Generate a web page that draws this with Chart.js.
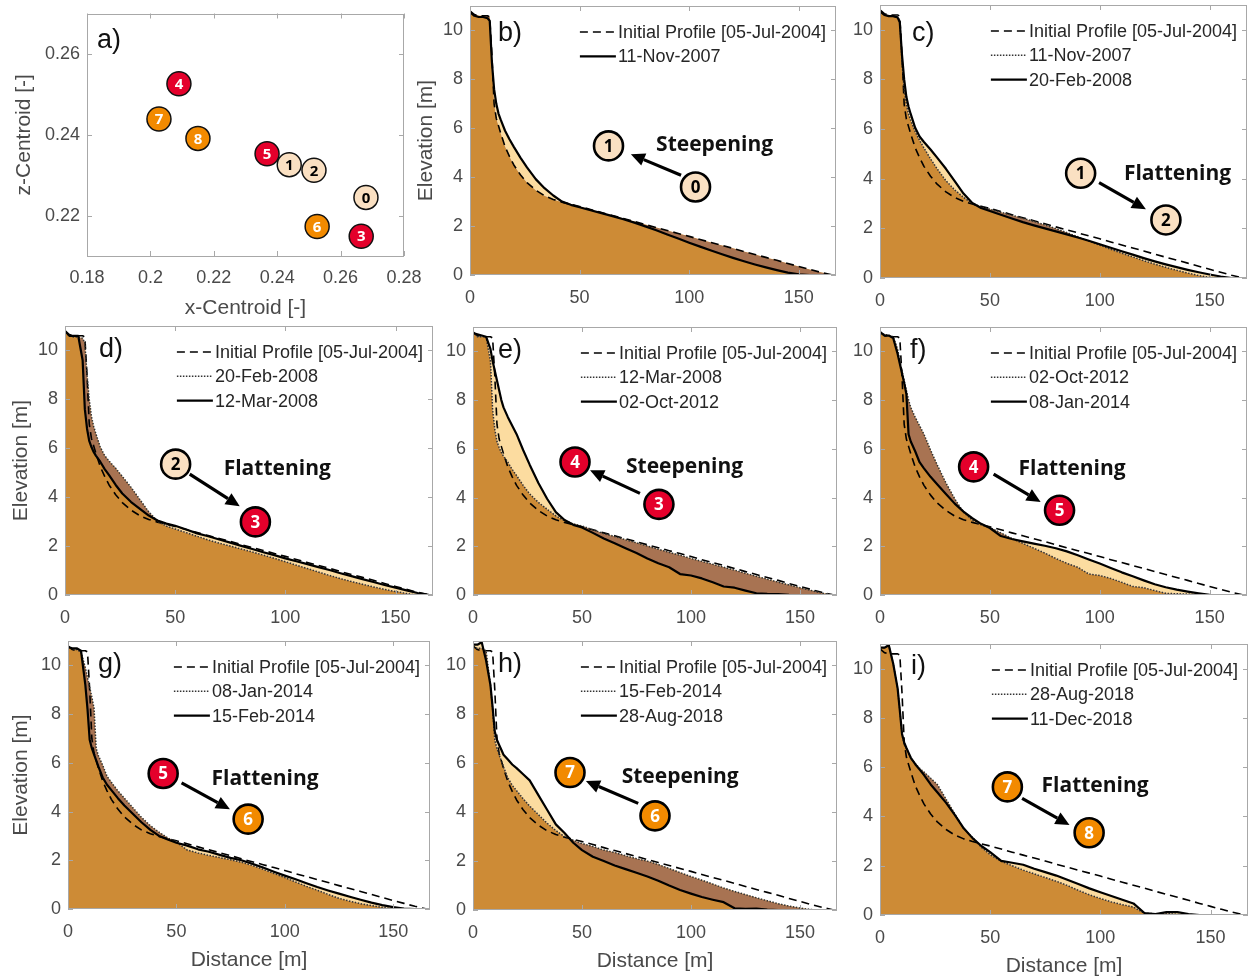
<!DOCTYPE html>
<html>
<head>
<meta charset="utf-8">
<script src="https://cdn.jsdelivr.net/npm/chart.js@4.4.1/dist/chart.umd.min.js"></script>
<style>
html,body{margin:0;padding:0;background:#ffffff;}
body{position:relative;width:1250px;height:978px;overflow:hidden;}
canvas{position:absolute;}
</style>
</head>
<body>
<script>
// ================= DATA =================
const distance = [0,2,4,6,8,9,10,11,12,13,14,16,18,20,23,26,30,34,38,42,46,50,55,60,65,70,75,80,85,90,95,100,105,110,115,120,125,130,135,140,145,150,155,160,165,167];

const elev_05Jul2004 = [10.8,10.65,10.6,10.6,10.6,10.55,9.0,7.0,6.4,6.1,5.8,5.25,4.85,4.5,4.1,3.78,3.47,3.24,3.09,2.98,2.89,2.8,2.68,2.55,2.43,2.31,2.19,2.06,1.94,1.82,1.7,1.58,1.45,1.33,1.21,1.09,0.96,0.84,0.72,0.6,0.47,0.35,0.23,0.11,0.01,0];
const elev_11Nov2007 = [10.75,10.6,10.55,10.55,10.5,10.4,8.7,7.6,7.0,6.6,6.35,5.9,5.55,5.24,4.8,4.4,3.92,3.55,3.25,3.0,2.87,2.77,2.65,2.53,2.41,2.28,2.14,1.99,1.83,1.66,1.49,1.32,1.16,1.0,0.85,0.7,0.56,0.43,0.31,0.2,0.1,0.03,0,0,0,0];
const elev_20Feb2008 = [10.75,10.6,10.55,10.55,10.5,10.3,9.0,8.0,7.3,6.9,6.6,6.05,5.7,5.48,5.18,4.85,4.4,3.9,3.4,3.02,2.82,2.7,2.55,2.4,2.25,2.12,2.0,1.88,1.76,1.63,1.5,1.36,1.22,1.08,0.94,0.8,0.67,0.55,0.44,0.33,0.23,0.14,0.06,0,0,0];
const elev_12Mar2008 = [10.8,10.6,10.6,10.6,9.6,7.6,6.8,6.3,6.05,5.85,5.7,5.45,5.15,4.9,4.5,4.15,3.8,3.52,3.25,3.05,2.92,2.83,2.68,2.52,2.4,2.27,2.14,2.01,1.88,1.75,1.63,1.5,1.38,1.26,1.14,1.02,0.89,0.77,0.65,0.53,0.41,0.3,0.19,0.08,0.01,0];
const elev_02Oct2012 = [10.75,10.7,10.65,10.6,10.1,9.6,9.2,8.8,8.4,8.0,7.7,7.3,6.95,6.6,5.95,5.35,4.6,3.95,3.4,3.08,2.88,2.77,2.55,2.32,2.12,1.92,1.72,1.5,1.3,1.14,0.86,0.8,0.68,0.52,0.35,0.3,0.18,0.07,0.05,0.04,0.01,0,0,0,0,0];
const elev_08Jan2014 = [10.8,10.65,10.65,10.55,9.9,9.5,9.1,8.7,8.25,6.6,6.3,5.9,5.45,5.2,4.85,4.55,4.15,3.75,3.42,3.15,2.92,2.75,2.42,2.3,2.2,2.11,2.02,1.92,1.79,1.63,1.46,1.29,1.11,0.93,0.77,0.6,0.44,0.32,0.22,0.14,0.07,0.01,0,0,0,0];
const elev_15Feb2014 = [10.75,10.7,10.7,10.6,9.2,8.2,6.95,6.6,6.35,6.1,5.85,5.4,5.1,4.88,4.55,4.25,3.9,3.55,3.25,3.0,2.85,2.72,2.6,2.45,2.35,2.22,2.1,2.0,1.86,1.7,1.53,1.37,1.22,1.06,0.9,0.76,0.63,0.5,0.38,0.26,0.16,0.08,0.02,0,0,0];
const elev_28Aug2018 = [10.85,10.85,10.95,10.2,9.2,8.3,7.3,6.95,6.75,6.55,6.35,6.15,5.95,5.8,5.55,5.3,4.7,4.1,3.5,3.15,2.75,2.45,2.18,2.0,1.82,1.67,1.52,1.37,1.2,1.0,0.82,0.67,0.53,0.42,0.32,0.07,0.05,0.06,0.02,0,0,0,0,0,0,0];
const elev_11Dec2018 = [10.85,10.85,10.95,10.2,9.2,8.3,7.35,7.0,6.78,6.58,6.38,6.12,5.9,5.68,5.3,4.98,4.55,4.05,3.52,3.12,2.8,2.55,2.2,2.12,2.04,1.88,1.74,1.6,1.43,1.26,1.08,0.92,0.77,0.62,0.47,0.08,0.04,0.12,0.12,0.04,0,0,0,0,0,0];

const surveyDates = ['05-Jul-2004','11-Nov-2007','20-Feb-2008','12-Mar-2008','02-Oct-2012','08-Jan-2014','15-Feb-2014','28-Aug-2018','11-Dec-2018'];
const initialLabel = 'Initial Profile [05-Jul-2004]';

const stateIds   = ['0','1','2','3','4','5','6','7','8'];
const xCentroid  = [0.268,0.2438,0.2516,0.2665,0.209,0.2368,0.2526,0.2027,0.215];
const zCentroid  = [0.2245,0.2326,0.2312,0.2149,0.2526,0.2353,0.2173,0.2439,0.2391];
const stateGroup = ['beige','beige','beige','red','red','red','orange','orange','orange'];

const profileXTicks = [0,50,100,150];
const profileYTicks = [0,2,4,6,8,10];
const centroidXTicks = [0.18,0.2,0.22,0.24,0.26,0.28];
const centroidXTickLabels = ['0.18','0.2','0.22','0.24','0.26','0.28'];
const centroidYTicks = [0.22,0.24,0.26];
const centroidYTickLabels = ['0.22','0.24','0.26'];

const transitionLabels = ['Steepening','Flattening','Flattening','Steepening','Flattening','Flattening','Steepening','Flattening'];

// ================= STYLE / LAYOUT =================
const profiles = [elev_05Jul2004, elev_11Nov2007, elev_20Feb2008, elev_12Mar2008, elev_02Oct2012, elev_08Jan2014, elev_15Feb2014, elev_28Aug2018, elev_11Dec2018];
const FONT = '"Liberation Sans", Arial, Helvetica, sans-serif';
const BOLD = '"Open Sans", "Liberation Sans", Arial, sans-serif';
const C_OCHRE = '#CD8B36', C_LIGHT = '#FCDCA0', C_BROWN = '#A87352';
const C_TEXT = '#4a4a4a', C_BOX = '#a8a8a8';
const stateColors = {beige:'#FAE0C2', red:'#E4002B', orange:'#F28A00'};
const stateText = {beige:'#000', red:'#fff', orange:'#fff'};

Chart.defaults.font.family = FONT;
Chart.defaults.color = C_TEXT;
Chart.defaults.animation = false;

// annotation positions (data units) per panel: from circle, to circle, arrow tail, arrow tip, text anchor
const annot = {
  b:{from:[102.9,3.6], to:[63.2,5.28], tail:[96.3,4.08], tip:[73.4,4.94], text:[84.9,5.31]},
  c:{from:[91.3,4.22], to:[130.1,2.34], tail:[99.7,3.84], tip:[121,2.77], text:[111,4.18]},
  d:{from:[50.2,5.35], to:[86.4,2.99], tail:[56.6,4.94], tip:[79.3,3.63], text:[72,5.14]},
  e:{from:[85.3,3.72], to:[46.8,5.46], tail:[76.6,4.17], tip:[53.7,5.12], text:[70.2,5.26]},
  f:{from:[42.6,5.26], to:[81.7,3.48], tail:[51.7,4.96], tip:[73.1,3.82], text:[63,5.16]},
  g:{from:[43.9,5.56], to:[83.1,3.69], tail:[52.4,5.18], tip:[74.7,4.09], text:[66.2,5.32]},
  h:{from:[83.5,3.85], to:[44.5,5.62], tail:[75.8,4.36], tip:[51.8,5.28], text:[68.2,5.44]},
  i:{from:[57.8,5.2],  to:[94.9,3.34], tail:[64.5,4.73], tip:[86,3.65],  text:[73.3,5.24]}
};

const layoutPanels = {
  a:{rect:[87,6,404,256],   W:79, H:69, padT:6, padR:26, ldx:10, ldy:27},
  b:{rect:[470,6,836,275],  W:60, H:40, padT:6, padR:6,  ldx:28, ldy:28, yTitle:true},
  c:{rect:[880,5,1247,278], W:40, H:40, padT:5, padR:3,  ldx:32, ldy:29},
  d:{rect:[65,326,433,595], W:60, H:40, padT:8, padR:6,  ldx:34, ldy:24, yTitle:true},
  e:{rect:[473,327,837,595],W:40, H:40, padT:8, padR:6,  ldx:25, ldy:24},
  f:{rect:[880,327,1247,595],W:40,H:40, padT:8, padR:3,  ldx:30, ldy:24},
  g:{rect:[68,641,430,909], W:63, H:68, padT:8, padR:6,  ldx:30, ldy:24, yTitle:true, xTitle:true},
  h:{rect:[473,641,837,910],W:40, H:68, padT:8, padR:6,  ldx:25, ldy:24, xTitle:true},
  i:{rect:[880,644,1248,915],W:40,H:68, padT:8, padR:2,  ldx:31, ldy:23, xTitle:true}
};

// ================= PLUGINS =================
function drawStateCircle(ctx, x, y, r, state, fontPx, lw) {
  const g = stateGroup[state];
  ctx.beginPath(); ctx.arc(x, y, r, 0, Math.PI*2);
  ctx.fillStyle = stateColors[g]; ctx.fill();
  ctx.lineWidth = lw; ctx.strokeStyle = '#000'; ctx.stroke();
  ctx.fillStyle = stateText[g];
  ctx.font = 'bold ' + fontPx + 'px ' + BOLD;
  ctx.textAlign = 'center'; ctx.textBaseline = 'middle';
  ctx.fillText(stateIds[state], x, y + 1);
}

const boxPlugin = {
  id:'box',
  afterDatasetsDraw(chart) {
    const {ctx, chartArea:a, scales} = chart;
    ctx.save();
    ctx.strokeStyle = C_BOX; ctx.lineWidth = 1;
    ctx.strokeRect(Math.round(a.left)+0.5, Math.round(a.top)+0.5, Math.round(a.right-a.left)-1, Math.round(a.bottom-a.top)-1);
    const tl = 5;
    ctx.beginPath();
    scales.x.ticks.forEach(t => {
      const px = Math.round(scales.x.getPixelForValue(t.value)) + 0.5;
      ctx.moveTo(px, a.bottom); ctx.lineTo(px, a.bottom - tl);
      ctx.moveTo(px, a.top); ctx.lineTo(px, a.top + tl);
    });
    scales.y.ticks.forEach(t => {
      const py = Math.round(scales.y.getPixelForValue(t.value)) + 0.5;
      ctx.moveTo(a.left, py); ctx.lineTo(a.left + tl, py);
      ctx.moveTo(a.right, py); ctx.lineTo(a.right - tl, py);
    });
    ctx.stroke();
    ctx.restore();
  }
};

const transitionPlugin = {
  id:'transition',
  afterDatasetsDraw(chart, args, o) {
    if (!o || !o.pos) return;
    const {ctx} = chart, xs = chart.scales.x, ys = chart.scales.y;
    const P = p => [xs.getPixelForValue(p[0]), ys.getPixelForValue(p[1])];
    ctx.save();
    const [x1,y1] = P(o.pos.tail), [x2,y2] = P(o.pos.tip);
    const ang = Math.atan2(y2-y1, x2-x1), hl = 14, hw = 6.5;
    const bx = x2 - hl*Math.cos(ang), by = y2 - hl*Math.sin(ang);
    ctx.strokeStyle = '#000'; ctx.lineWidth = 3.2;
    ctx.beginPath(); ctx.moveTo(x1,y1); ctx.lineTo(bx,by); ctx.stroke();
    ctx.fillStyle = '#000'; ctx.beginPath(); ctx.moveTo(x2,y2);
    ctx.lineTo(bx + hw*Math.sin(ang), by - hw*Math.cos(ang));
    ctx.lineTo(bx - hw*Math.sin(ang), by + hw*Math.cos(ang));
    ctx.closePath(); ctx.fill();
    const f = P(o.pos.from), t = P(o.pos.to);
    drawStateCircle(ctx, f[0], f[1], 14.5, o.fromState, 17, 2.6);
    drawStateCircle(ctx, t[0], t[1], 14.5, o.toState, 17, 2.6);
    const [tx,ty] = P(o.pos.text);
    ctx.font = 'bold 21px ' + BOLD; ctx.fillStyle = '#111';
    ctx.textAlign = 'left'; ctx.textBaseline = 'middle';
    ctx.fillText(o.label, tx, ty);
    ctx.restore();
  }
};

const legendPlugin = {
  id:'profLegend',
  afterDraw(chart) {
    const items = chart.data.datasets.filter(d => d.legendRank).sort((p,q) => p.legendRank - q.legendRank);
    if (!items.length) return;
    const {ctx, chartArea:a} = chart;
    ctx.save();
    ctx.font = '18px ' + FONT;
    const maxW = Math.max(...items.map(d => ctx.measureText(d.label).width));
    const textX = a.right - 10 - maxW;
    items.forEach((d,k) => {
      const y = a.top + 26 + k*24.3;
      ctx.strokeStyle = d.borderColor; ctx.lineWidth = d.borderWidth;
      ctx.setLineDash(d.borderDash || []);
      ctx.beginPath(); ctx.moveTo(textX - 38, y); ctx.lineTo(textX - 2, y); ctx.stroke();
      ctx.setLineDash([]);
      ctx.fillStyle = '#262626'; ctx.textAlign = 'left'; ctx.textBaseline = 'middle';
      ctx.fillText(d.label, textX, y + 1);
    });
    ctx.restore();
  }
};

const letterPlugin = {
  id:'letter',
  afterDraw(chart, args, o) {
    if (!o || !o.text) return;
    const {ctx, chartArea:a} = chart;
    ctx.save();
    ctx.font = '27px ' + FONT; ctx.fillStyle = '#111';
    ctx.textAlign = 'left'; ctx.textBaseline = 'middle';
    ctx.fillText(o.text, a.left + o.dx, a.top + o.dy);
    ctx.restore();
  }
};

const scatterLabelPlugin = {
  id:'scatterLabels',
  afterDatasetDraw(chart, args) {
    const ds = chart.data.datasets[args.index];
    if (!ds.stateList) return;
    const ctx = chart.ctx;
    ctx.save();
    args.meta.data.forEach((el, i) => {
      const s = ds.stateList[i], g = stateGroup[s];
      ctx.fillStyle = stateText[g];
      ctx.font = 'bold 15px ' + BOLD;
      ctx.textAlign = 'center'; ctx.textBaseline = 'middle';
      ctx.fillText(stateIds[s], el.x, el.y + 1);
    });
    ctx.restore();
  }
};

// ================= HELPERS =================
function makeCanvas(key) {
  const L = layoutPanels[key];
  const [l,t,r,b] = L.rect;
  const left = l - L.W, top = t - L.padT;
  const width = r - left + L.padR, height = b + L.H - top;
  const c = document.createElement('canvas');
  c.width = width; c.height = height;
  c.style.left = left + 'px'; c.style.top = top + 'px';
  c.style.width = width + 'px'; c.style.height = height + 'px';
  document.body.appendChild(c);
  return c;
}
function fixer(size, horizontal) {
  return s => {
    if (horizontal) s.height = size; else s.width = size;
    s.paddingTop = s.paddingBottom = s.paddingLeft = s.paddingRight = 0;
  };
}
const pts = ys => distance.map((x,i) => ({x, y: ys[i]}));
const hideFlat = { borderColor: c => (c.p0.parsed.y === 0 && c.p1.parsed.y === 0) ? 'rgba(0,0,0,0)' : undefined };

function scaleX(L, min, max, tickVals, tickLabels, title, pad) {
  return {
    type:'linear', min, max,
    afterBuildTicks: s => { s.ticks = tickVals.map(v => ({value:v})); },
    afterFit: fixer(L.H, true),
    ticks:{font:{size:18}, color:C_TEXT, padding:pad, maxRotation:0, autoSkip:false,
           callback: tickLabels ? ((v,i) => tickLabels[i]) : undefined},
    grid:{display:false, drawTicks:false, tickLength:0},
    border:{display:false},
    title:{display:!!title, text:title || '', font:{size:21}, color:C_TEXT, padding:{top:4,bottom:4}}
  };
}
function scaleY(L, min, max, tickVals, tickLabels, title) {
  return {
    type:'linear', min, max,
    afterBuildTicks: s => { s.ticks = tickVals.map(v => ({value:v})); },
    afterFit: fixer(L.W, false),
    ticks:{font:{size:18}, color:C_TEXT, padding:7, autoSkip:false,
           callback: tickLabels ? ((v,i) => tickLabels[i]) : undefined},
    grid:{display:false, drawTicks:false, tickLength:0},
    border:{display:false},
    title:{display:!!title, text:title || '', font:{size:21}, color:C_TEXT, padding:{top:4,bottom:4}}
  };
}

// ================= PANEL a =================
(function(){
  const L = layoutPanels.a;
  const groups = ['beige','red','orange'];
  const datasets = groups.map(g => {
    const idx = stateIds.map((s,i) => i).filter(i => stateGroup[i] === g);
    return {
      label: g,
      data: idx.map(i => ({x:xCentroid[i], y:zCentroid[i]})),
      stateList: idx,
      backgroundColor: stateColors[g], borderColor:'#111', borderWidth:1.5,
      pointRadius:12, pointHoverRadius:12
    };
  });
  new Chart(makeCanvas('a'), {
    type:'scatter',
    data:{datasets},
    options:{
      responsive:false, maintainAspectRatio:false, events:[],
      layout:{padding:{left:0, top:L.padT, right:L.padR, bottom:0}},
      scales:{
        x: scaleX(L, 0.18, 0.28, centroidXTicks, centroidXTickLabels, 'x-Centroid [-]', 11),
        y: scaleY(L, 0.21, 0.27, centroidYTicks, centroidYTickLabels, 'z-Centroid [-]')
      },
      plugins:{legend:{display:false}, tooltip:{enabled:false},
               letter:{text:'a)', dx:L.ldx, dy:L.ldy}}
    },
    plugins:[boxPlugin, scatterLabelPlugin, letterPlugin]
  });
})();

// ================= PANELS b..i =================
const panelKeys = ['b','c','d','e','f','g','h','i'];
panelKeys.forEach((key, n) => {
  const L = layoutPanels[key];
  const prev = n, cur = n + 1;
  const ds = [];
  ds.push({label:surveyDates[cur], data:pts(profiles[cur]), borderColor:'#000', borderWidth:2.2,
           legendRank:3, segment:hideFlat, fill:false});
  if (prev !== 0) {
    ds.push({label:surveyDates[prev], data:pts(profiles[prev]), borderColor:'#333', borderWidth:1.5,
             borderDash:[1.5,1.5], legendRank:2, segment:hideFlat, fill:false});
  }
  ds.push({label:initialLabel, data:pts(profiles[0]), borderColor:'#000', borderWidth:1.6,
           borderDash:[8,5], legendRank:1, segment:hideFlat, fill:false});
  const prevFillIdx = ds.length + 1;
  ds.push({label:'fill-cur', data:pts(profiles[cur]), borderColor:'rgba(0,0,0,0)', borderWidth:1,
           fill:{target:prevFillIdx, above:C_LIGHT, below:C_BROWN}});
  ds.push({label:'fill-prev', data:pts(profiles[prev]), borderColor:'rgba(0,0,0,0)', borderWidth:1,
           fill:{target:'origin', above:C_OCHRE, below:C_OCHRE}, backgroundColor:C_OCHRE});
  new Chart(makeCanvas(key), {
    type:'line',
    data:{datasets:ds},
    options:{
      responsive:false, maintainAspectRatio:false, events:[],
      elements:{point:{radius:0}, line:{tension:0, borderCapStyle:'butt', borderJoinStyle:'round'}},
      layout:{padding:{left:0, top:L.padT, right:L.padR, bottom:0}},
      scales:{
        x: scaleX(L, 0, 167, profileXTicks, null, L.xTitle ? 'Distance [m]' : '', 12),
        y: scaleY(L, 0, 11, profileYTicks, null, L.yTitle ? 'Elevation [m]' : '')
      },
      plugins:{
        legend:{display:false}, tooltip:{enabled:false},
        filler:{drawTime:'beforeDatasetsDraw', propagate:false},
        letter:{text:key + ')', dx:L.ldx, dy:L.ldy},
        transition:{pos:annot[key], fromState:prev, toState:cur, label:transitionLabels[n]}
      }
    },
    plugins:[boxPlugin, transitionPlugin, legendPlugin, letterPlugin]
  });
});
</script>
</body>
</html>
